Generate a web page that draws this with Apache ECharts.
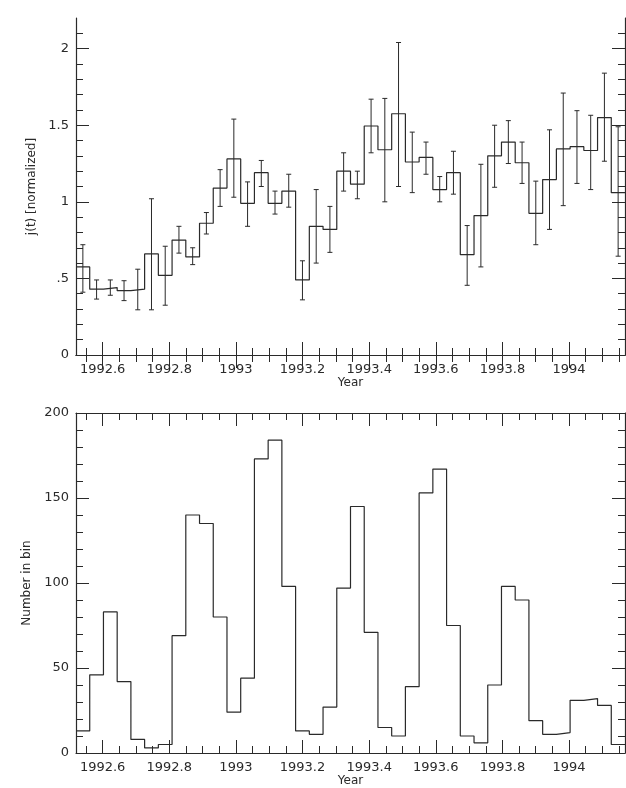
<!DOCTYPE html>
<html>
<head>
<meta charset="utf-8">
<script src="https://cdn.jsdelivr.net/npm/echarts@6/dist/echarts.min.js"></script>
<style>
  html, body { margin: 0; padding: 0; background: #fff; }
  #chart { width: 626px; height: 788px; }
</style>
</head>
<body>
<div id="chart"></div>
<script>
// bins: 40 bins of ~15 days starting mid 1992
var binStart = 1992.52;
var binWidth = 0.0412;

// top panel: normalized j(t) per bin, with error bar ends
var jValues = [0.575, 0.43, 0.44, 0.42, 0.43, 0.66, 0.52, 0.75, 0.64, 0.86,
               1.09, 1.28, 0.99, 1.19, 0.99, 1.07, 0.49, 0.84, 0.82, 1.20,
               1.115, 1.495, 1.34, 1.575, 1.26, 1.29, 1.08, 1.19, 0.655, 0.91,
               1.30, 1.39, 1.255, 0.925, 1.145, 1.345, 1.36, 1.335, 1.55, 1.06];
var jLow = [0.41, 0.365, 0.39, 0.355, 0.295, 0.295, 0.325, 0.665, 0.59, 0.79,
            0.97, 1.03, 0.84, 1.10, 0.92, 0.965, 0.36, 0.60, 0.67, 1.07,
            1.02, 1.32, 1.0, 1.10, 1.06, 1.18, 1.0, 1.05, 0.455, 0.575,
            1.095, 1.25, 1.12, 0.72, 0.82, 0.975, 1.12, 1.08, 1.265, 0.645];
var jHigh = [0.72, 0.49, 0.49, 0.485, 0.56, 1.02, 0.71, 0.84, 0.70, 0.93,
             1.21, 1.54, 1.13, 1.27, 1.07, 1.18, 0.615, 1.08, 0.97, 1.32,
             1.20, 1.67, 1.675, 2.04, 1.455, 1.39, 1.165, 1.33, 0.845, 1.245,
             1.50, 1.53, 1.39, 1.135, 1.47, 1.71, 1.595, 1.565, 1.84, 1.49];

// bottom panel: number of events per bin
var counts = [13, 46, 83, 42, 8, 3, 5, 69, 140, 135,
              80, 24, 44, 173, 184, 98, 13, 11, 27, 97,
              145, 71, 15, 10, 39, 153, 167, 75, 10, 6,
              40, 98, 90, 19, 11, 12, 31, 32, 28, 5];

// tick labels
var majorYears = [1992.6, 1992.8, 1993, 1993.2, 1993.4, 1993.6, 1993.8, 1994];
var jTicks = [0, 0.5, 1, 1.5, 2];
var nTicks = [0, 50, 100, 150, 200];

var ink = '#2a2a2a';
var font = 'DejaVu Sans';
var xMax = binStart + counts.length * binWidth;

// minor ticks every 0.05 yr on x, every 0.1 on j(t)
var minorYears = [];
for (var k = 0; k < 33; k++) {
    var v = Math.round((1992.55 + k * 0.05) * 100) / 100;
    if (majorYears.indexOf(v) < 0) minorYears.push(v);
}
var jMinor = [];
for (var m = 1; m <= 21; m++) {
    if (m % 5 !== 0) jMinor.push(m / 10);
}

function stepData(vals) {
    var d = vals.map(function (v, i) { return [binStart + i * binWidth, v]; });
    d.push([binStart + vals.length * binWidth, vals[vals.length - 1]]);
    return d;
}

function xAxesFor(grid) {
    var base = { type: 'value', gridIndex: grid, min: binStart, max: xMax, splitLine: { show: false } };
    var line = { show: true, lineStyle: { color: ink, width: 1.2 } };
    return [
        Object.assign({}, base, {
            position: 'bottom', axisLine: line,
            name: 'Year', nameLocation: 'middle', nameGap: 21,
            nameTextStyle: { color: ink, fontFamily: font, fontSize: 12 },
            axisTick: { inside: true, length: 13, customValues: majorYears, lineStyle: { color: ink } },
            axisLabel: {
                customValues: majorYears, margin: 8, color: ink, fontFamily: font, fontSize: 13,
                formatter: function (v) { return String(Math.round(v * 10) / 10); }
            }
        }),
        Object.assign({}, base, {
            position: 'bottom', axisLine: { show: false },
            axisTick: { inside: true, length: 7, customValues: minorYears, lineStyle: { color: ink } },
            axisLabel: { show: false }
        }),
        Object.assign({}, base, {
            position: 'top', axisLine: line,
            axisTick: { inside: true, length: 13, customValues: majorYears, lineStyle: { color: ink } },
            axisLabel: { show: false }
        }),
        Object.assign({}, base, {
            position: 'top', axisLine: { show: false },
            axisTick: { inside: true, length: 7, customValues: minorYears, lineStyle: { color: ink } },
            axisLabel: { show: false }
        })
    ];
}

var line = { show: true, lineStyle: { color: ink, width: 1.2 } };
var jBase = { type: 'value', gridIndex: 0, min: 0, max: 2.2, splitLine: { show: false } };
var nBase = { type: 'value', gridIndex: 1, min: 0, max: 200, interval: 50, splitLine: { show: false } };
var nameStyle = { color: ink, fontFamily: font, fontSize: 12 };

var yAxes = [
    Object.assign({}, jBase, {
        position: 'left', axisLine: line,
        name: 'j(t) [normalized]', nameLocation: 'middle', nameGap: 36, nameTextStyle: nameStyle,
        axisTick: { inside: true, length: 13, customValues: jTicks, lineStyle: { color: ink } },
        axisLabel: {
            customValues: jTicks, margin: 7, color: ink, fontFamily: font, fontSize: 13,
            formatter: function (v) { return v === 0 ? '0' : String(v).replace(/^0\./, '.'); }
        }
    }),
    Object.assign({}, jBase, {
        position: 'left', axisLine: { show: false },
        axisTick: { inside: true, length: 7, customValues: jMinor, lineStyle: { color: ink } },
        axisLabel: { show: false }
    }),
    Object.assign({}, jBase, {
        position: 'right', axisLine: line,
        axisTick: { inside: true, length: 13, customValues: jTicks, lineStyle: { color: ink } },
        axisLabel: { show: false }
    }),
    Object.assign({}, jBase, {
        position: 'right', axisLine: { show: false },
        axisTick: { inside: true, length: 7, customValues: jMinor, lineStyle: { color: ink } },
        axisLabel: { show: false }
    }),
    Object.assign({}, nBase, {
        position: 'left', axisLine: line,
        name: 'Number in bin', nameLocation: 'middle', nameGap: 35, nameTextStyle: nameStyle,
        axisTick: { inside: true, length: 13, lineStyle: { color: ink } },
        minorTick: { show: true, splitNumber: 5, length: 7, lineStyle: { color: ink } },
        axisLabel: { customValues: nTicks, margin: 7, color: ink, fontFamily: font, fontSize: 13 }
    }),
    Object.assign({}, nBase, {
        position: 'right', axisLine: line,
        axisTick: { inside: true, length: 13, lineStyle: { color: ink } },
        minorTick: { show: true, splitNumber: 5, length: 7, lineStyle: { color: ink } },
        axisLabel: { show: false }
    })
];

var errData = jValues.map(function (v, i) {
    return [binStart + (i + 0.5) * binWidth, jLow[i], jHigh[i]];
});

var dom = document.getElementById('chart');
var myChart = echarts.init(dom, null, { renderer: 'canvas' });

var option = {
    backgroundColor: '#fff',
    animation: false,
    grid: [
        { left: 76, right: 1, top: 18, height: 337 },
        { left: 76, right: 1, top: 413, height: 340 }
    ],
    xAxis: xAxesFor(0).concat(xAxesFor(1)),
    yAxis: yAxes,
    series: [
        {
            type: 'line', xAxisIndex: 0, yAxisIndex: 0, step: 'end',
            data: stepData(jValues), symbol: 'none',
            lineStyle: { color: ink, width: 1.2 }
        },
        {
            type: 'custom', xAxisIndex: 0, yAxisIndex: 0,
            data: errData, encode: { x: 0, y: [1, 2] },
            renderItem: function (params, api) {
                var x = api.value(0);
                var lo = api.coord([x, api.value(1)]);
                var hi = api.coord([x, api.value(2)]);
                var hw = 2.5;
                var st = { stroke: ink, lineWidth: 1 };
                return {
                    type: 'group',
                    children: [
                        { type: 'line', shape: { x1: lo[0], y1: lo[1], x2: hi[0], y2: hi[1] }, style: st },
                        { type: 'line', shape: { x1: hi[0] - hw, y1: hi[1], x2: hi[0] + hw, y2: hi[1] }, style: st },
                        { type: 'line', shape: { x1: lo[0] - hw, y1: lo[1], x2: lo[0] + hw, y2: lo[1] }, style: st }
                    ]
                };
            }
        },
        {
            type: 'line', xAxisIndex: 4, yAxisIndex: 4, step: 'end',
            data: stepData(counts), symbol: 'none',
            lineStyle: { color: ink, width: 1.2 }
        }
    ]
};

if (option && typeof option === 'object') {
    myChart.setOption(option, true);
}
</script>
</body>
</html>
